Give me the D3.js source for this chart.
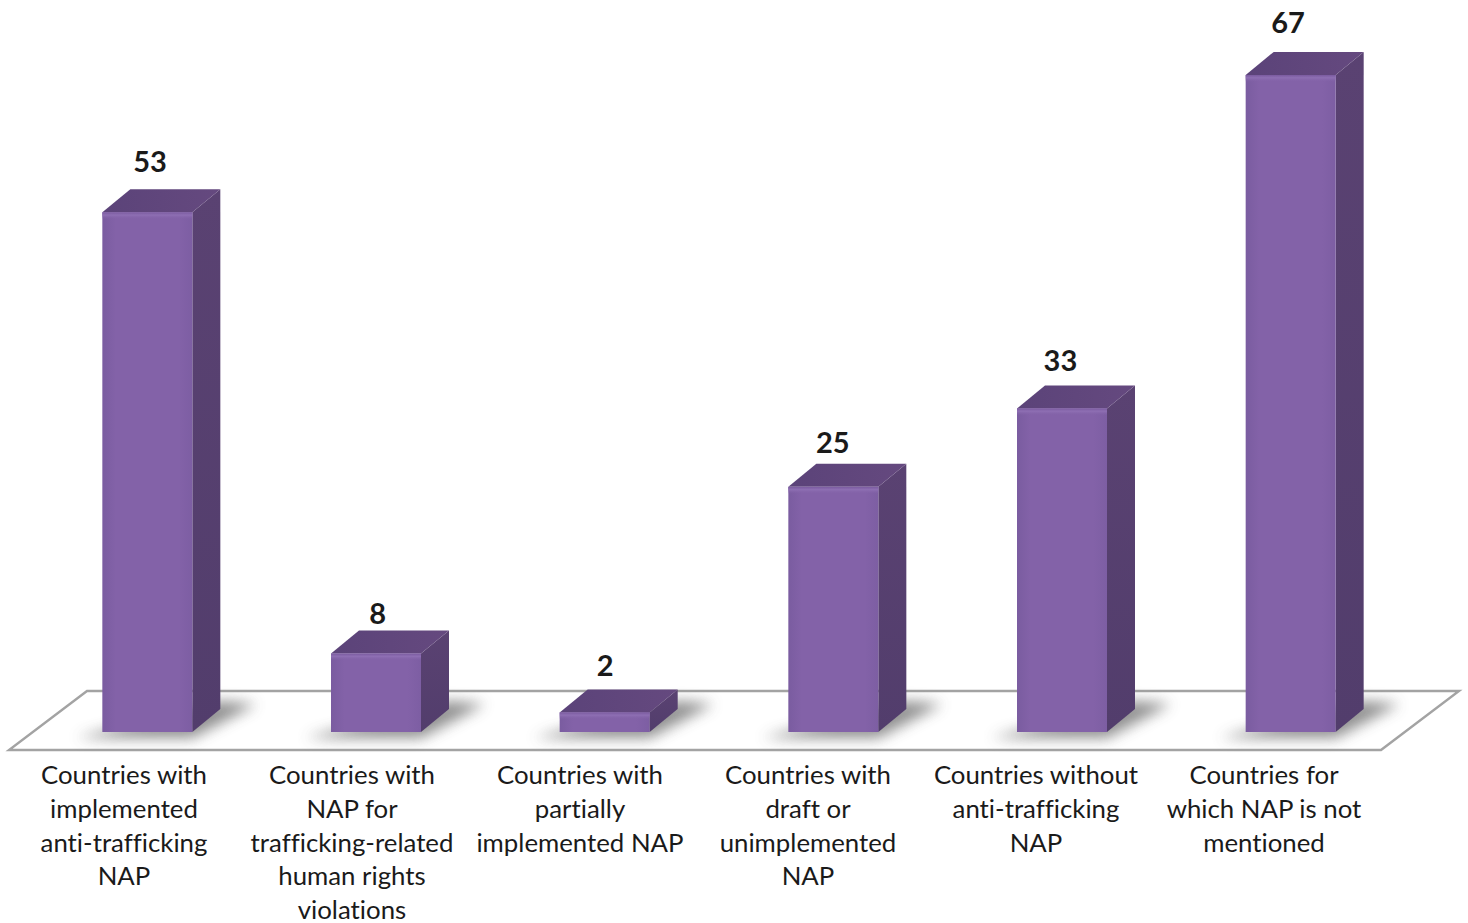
<!DOCTYPE html>
<html><head><meta charset="utf-8">
<script src="https://cdn.jsdelivr.net/npm/d3@7/dist/d3.min.js"></script>
<style>html,body{margin:0;padding:0;background:#fff;overflow:hidden}svg{display:block}</style>
</head><body><svg id="c" width="1468" height="923"></svg>
<script>
const categories=[
 ["Countries with","implemented","anti-trafficking","NAP"],
 ["Countries with","NAP for","trafficking-related","human rights","violations"],
 ["Countries with","partially","implemented NAP"],
 ["Countries with","draft or","unimplemented","NAP"],
 ["Countries without","anti-trafficking","NAP"],
 ["Countries for","which NAP is not","mentioned"]];
const values=[53,8,2,25,33,67];
const valueLabelGap=[40,30,36,34,37,42];
const font="Lato, Carlito, sans-serif";
const svg=d3.select("#c");
const keys=categories.map((d,i)=>i);
const x=d3.scaleBand().domain(keys).range([9,1381]);
const catX=d3.scalePoint().domain(keys).range([124,1264]);
const valX=d3.scalePoint().domain(keys).range([150,1288]);
const y=d3.scaleLinear().domain([0,67]).range([732,75]);
const W=90,DX=28,DY=23,BEVEL=7;
const defs=svg.append("defs");
defs.append("filter").attr("id","blur").attr("x","-50%").attr("y","-100%").attr("width","200%").attr("height","300%")
 .append("feGaussianBlur").attr("stdDeviation",7);
const mk=(id,stops,horizontal)=>{const g=defs.append("linearGradient").attr("id",id).attr("x1",0).attr("y1",0).attr("x2",horizontal?1:0).attr("y2",horizontal?0:1);
 stops.forEach(s=>g.append("stop").attr("offset",s[0]).attr("stop-color",s[1]).attr("stop-opacity",s[2]===undefined?1:s[2]));};
mk("front",[[0,"#7a5ca0"],[0.15,"#8362a8"],[0.85,"#8362a8"],[1,"#7d5ea3"]],true);
mk("top",[[0,"#5b4379"],[1,"#65497f"]],true);
mk("side",[[0,"#5a4272"],[1,"#523d6c"]],false);
mk("bevel",[[0,"#7a5a9f",1],[0.4,"#8e6fb3",1],[1,"#8362a8",0]],false);
const pts=a=>a.map(p=>p.join(",")).join(" ");
// floor
const x0=x.range()[0],x1=x.range()[1],fy=750,by=691,skew=78;
svg.append("polygon").attr("points",pts([[x0,fy],[x1,fy],[x1+skew,by],[x0+skew,by]]))
 .attr("fill","#fff").attr("stroke","#a3a3a3").attr("stroke-width",2.4);
const g=svg.selectAll("g.bar").data(keys).join("g").attr("class","bar");
const bx=i=>x(i)+x.bandwidth()/2+24-W/2;
g.append("polygon").attr("fill","#7d7d7d").attr("filter","url(#blur)").attr("opacity",.85)
 .attr("points",i=>{const l=bx(i);return pts([[l-26,738],[l+W,738],[l+W+DX+36,704],[l+W+DX,701]]);});
g.append("polygon").attr("fill","url(#side)").attr("points",i=>{const l=bx(i)+W,t=y(values[i]);
 return pts([[l,t],[l+DX,t-DY],[l+DX,y(0)-DY],[l,y(0)]]);});
g.append("polygon").attr("fill","url(#top)").attr("points",i=>{const l=bx(i),t=y(values[i]);
 return pts([[l,t],[l+W,t],[l+W+DX,t-DY],[l+DX,t-DY]]);});
g.append("rect").attr("fill","url(#front)").attr("x",bx).attr("width",W)
 .attr("y",i=>y(values[i])).attr("height",i=>y(0)-y(values[i]));
g.append("rect").attr("fill","url(#bevel)").attr("x",bx).attr("width",W)
 .attr("y",i=>y(values[i])).attr("height",BEVEL);
g.append("text").attr("x",i=>valX(i)).attr("y",i=>y(values[i])-valueLabelGap[i])
 .attr("text-anchor","middle").attr("font-family",font).attr("font-weight",700).attr("font-size",29).attr("fill","#1a1a1a")
 .text(i=>values[i]);
const lab=svg.selectAll("text.cat").data(keys).join("text").attr("class","cat")
 .attr("text-anchor","middle").attr("font-family",font).attr("font-size",25.8).attr("fill","#1a1a1a")
 .style("font-variant-ligatures","none");
lab.selectAll("tspan").data(i=>categories[i].map(t=>({t,i}))).join("tspan")
 .attr("x",d=>catX(d.i)).attr("y",(d,j)=>784+j*33.8).text(d=>d.t);
</script></body></html>
